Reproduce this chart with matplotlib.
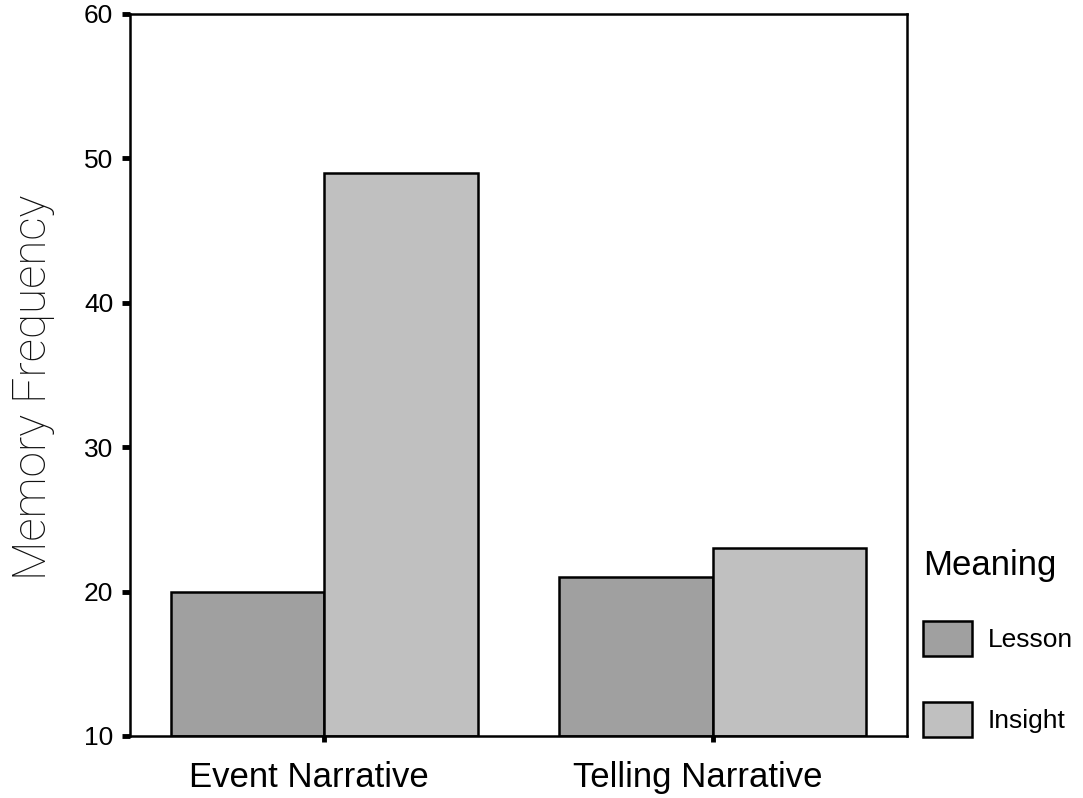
import matplotlib.pyplot as plt
import matplotlib.transforms as mtransforms
import numpy as np

categories = ['Event Narrative', 'Telling Narrative']
lesson = [20, 21]
insight = [49, 23]
series_names = ['Lesson', 'Insight']
yticks = [10, 20, 30, 40, 50, 60]

plt.rcParams['font.family'] = ['Liberation Sans', 'DejaVu Sans']

fig = plt.figure(figsize=(10.83, 7.98), dpi=100)
ax = fig.add_axes([0.120, 0.0777, 0.7175, 0.9048])

x = np.arange(len(categories))
w = 0.395
b1 = ax.bar(x - w / 2, np.array(lesson) - 10, w, bottom=10, color='#a0a0a0',
            edgecolor='black', linewidth=1.8, label=series_names[0])
b2 = ax.bar(x + w / 2, np.array(insight) - 10, w, bottom=10, color='#c0c0c0',
            edgecolor='black', linewidth=1.8, label=series_names[1])

ax.set_xlim(-0.5, 1.5)
ax.set_ylim(10, 60)
ax.set_yticks(yticks)
ax.set_xticks(x)
ax.set_xticklabels(categories, fontsize=25)
ax.tick_params(axis='y', length=6, width=3.5, labelsize=19, pad=6)
ax.tick_params(axis='x', length=4, width=3.5, pad=14)
for s in ax.spines.values():
    s.set_linewidth(1.8)

# category labels sit a little left of their ticks in the original
shift = mtransforms.ScaledTranslation(-0.15, 0, fig.dpi_scale_trans)
for lbl in ax.get_xticklabels():
    lbl.set_transform(lbl.get_transform() + shift)

ax.set_ylabel('Memory Frequency', fontsize=33, family=['Roboto', 'DejaVu Sans'],
              fontweight='light', color='#111111')
ax.yaxis.set_label_coords(-0.0965, 0.483)

leg = ax.legend(handles=[b1, b2], title='Meaning', loc='lower left',
                bbox_to_anchor=(910 / 1083, 1 - 750 / 798),
                bbox_transform=fig.transFigure, frameon=False, fontsize=19,
                title_fontsize=25, handlelength=1.85, handleheight=1.66,
                labelspacing=1.74, handletextpad=0.6, borderpad=0)
leg._legend_box.align = 'left'
# space between title and entries
leg._legend_box.sep = 28

fig.savefig('out.png', dpi=100)
